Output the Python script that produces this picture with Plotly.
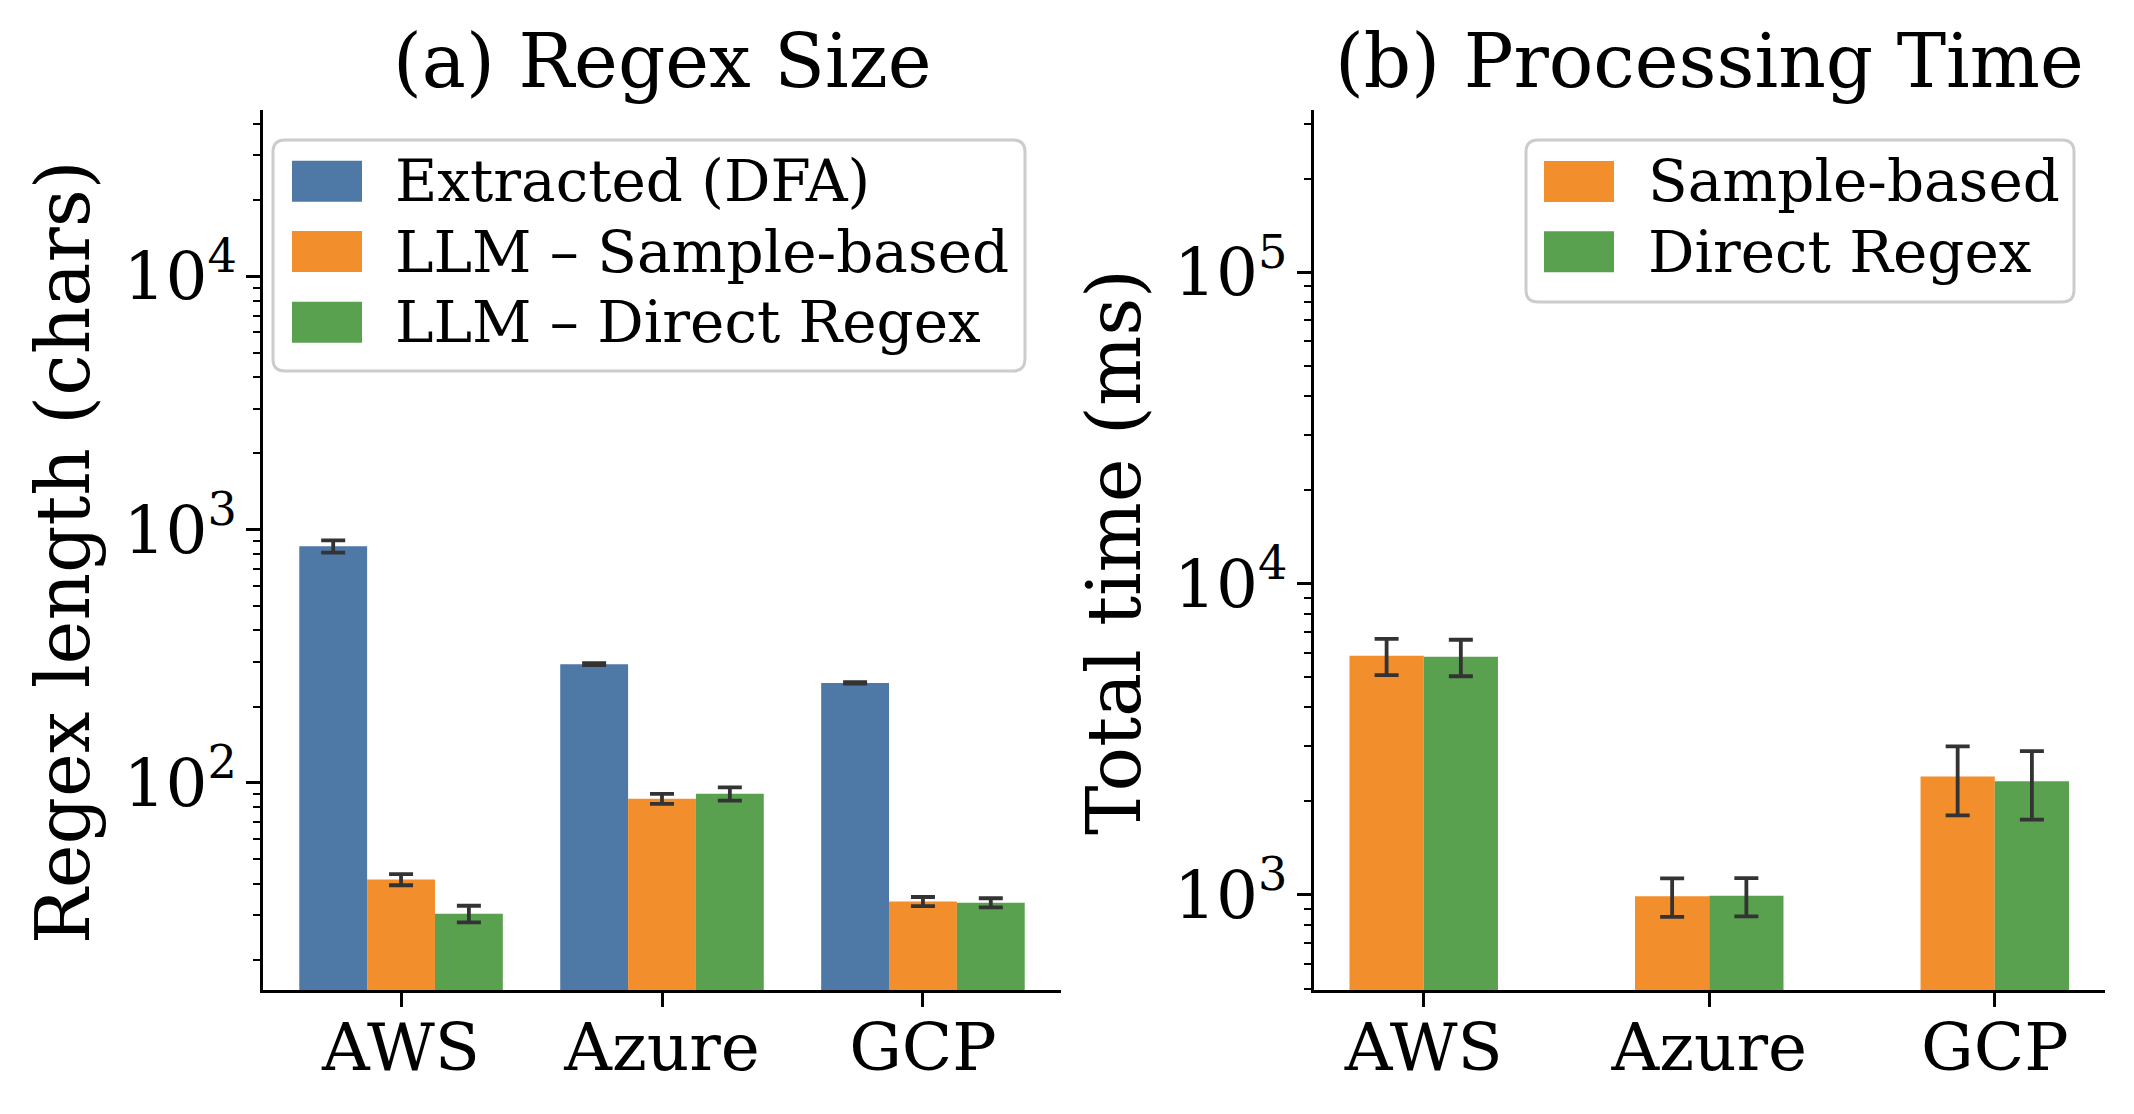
import numpy as np
import plotly.graph_objects as go

W, H = 2134, 1114

providers = ["AWS", "Azure", "GCP"]

# (a) regex size, chars
size_names = ["Extracted (DFA)", "LLM – Sample-based", "LLM – Direct Regex"]
size_dfa = [859, 294, 248]
size_dfa_err = [48, 2.5, 1.5]
size_sample = [41.5, 86.5, 34]
size_sample_err = [2.1, 4, 1.4]
size_direct = [30.4, 90.5, 33.6]
size_direct_err = [2.3, 5.5, 1.4]

# (b) processing time, ms
time_names = ["Sample-based", "Direct Regex"]
time_sample = [5860, 990, 2400]
time_sample_err = [780, 140, 600]
time_direct = [5820, 993, 2320]
time_direct_err = [780, 140, 575]

BLUE, ORANGE, GREEN = "#4e79a7", "#f28e2b", "#59a14f"
FONT = "DejaVu Serif"


def px(x):
    return x / W


def py(y):
    return 1 - y / H


def log_range(vals, errs):
    lo = min(min(v) for v in vals) * 0.5
    hi = max(max(np.array(v) + np.array(e)) for v, e in zip(vals, errs)) * 50
    return [np.log10(lo), np.log10(hi)]


def minor_vals(k0, k1):
    return [m * 10.0 ** k for k in range(k0, k1) for m in range(2, 10)]


fig = go.Figure()

bar_w = 0.26
a_series = [size_dfa, size_sample, size_direct]
a_errs = [size_dfa_err, size_sample_err, size_direct_err]
for vals, errs, name, col, off in zip(a_series, a_errs, size_names,
                                      [BLUE, ORANGE, GREEN], [-0.39, -0.13, 0.13]):
    fig.add_trace(go.Bar(
        x=providers, y=vals, name=name, width=bar_w, offset=off,
        marker=dict(color=col, line=dict(width=0)),
        error_y=dict(type="data", array=errs, color="#333333", thickness=3.8, width=12),
        xaxis="x", yaxis="y", showlegend=False))

b_series = [time_sample, time_direct]
b_errs = [time_sample_err, time_direct_err]
for vals, errs, name, col, off in zip(b_series, b_errs, time_names,
                                      [ORANGE, GREEN], [-0.26, 0.0]):
    fig.add_trace(go.Bar(
        x=providers, y=vals, name=name, width=bar_w, offset=off,
        marker=dict(color=col, line=dict(width=0)),
        error_y=dict(type="data", array=errs, color="#333333", thickness=3.8, width=12),
        xaxis="x2", yaxis="y2", showlegend=False))

axis_common = dict(showline=True, linecolor="black", linewidth=3, ticks="outside",
                   ticklen=14, tickwidth=3, tickcolor="black", showgrid=False,
                   zeroline=False, tickfont=dict(family=FONT, size=66, color="black"))

ydom = [py(990), py(110)]
fig.update_layout(
    width=W, height=H, margin=dict(l=0, r=0, t=0, b=0),
    paper_bgcolor="white", plot_bgcolor="white", barmode="group",
    xaxis=dict(domain=[px(263), px(1061)], range=[-0.529, 2.529], anchor="y",
               ticklabelstandoff=-16, **axis_common),
    yaxis=dict(domain=ydom, type="log", range=log_range(a_series, a_errs), anchor="x",
               tickvals=[1e2, 1e3, 1e4],
               ticktext=["10<sup>2</sup>", "10<sup>3</sup>", "10<sup>4</sup>"],
               ticklabelstandoff=-4,
               minor=dict(tickvals=minor_vals(1, 5), ticks="outside", ticklen=7,
                          tickwidth=2, tickcolor="black", showgrid=False),
               **axis_common),
    xaxis2=dict(domain=[px(1313.5), px(2105)], range=[-0.386, 2.386], anchor="y2",
                ticklabelstandoff=-16, **axis_common),
    yaxis2=dict(domain=ydom, type="log", range=log_range(b_series, b_errs), anchor="x2",
                tickvals=[1e3, 1e4, 1e5],
                ticktext=["10<sup>3</sup>", "10<sup>4</sup>", "10<sup>5</sup>"],
                ticklabelstandoff=-4,
                minor=dict(tickvals=minor_vals(2, 6), ticks="outside", ticklen=7,
                           tickwidth=2, tickcolor="black", showgrid=False),
                **axis_common),
)

# panel titles and axis titles
title_font = dict(family=FONT, size=74, color="black")
fig.add_annotation(text="(a) Regex Size", x=px(662), y=py(106), xref="paper", yref="paper",
                   xanchor="center", yanchor="bottom", showarrow=False, font=title_font)
fig.add_annotation(text="(b) Processing Time", x=px(1709), y=py(106), xref="paper", yref="paper",
                   xanchor="center", yanchor="bottom", showarrow=False, font=title_font)
fig.add_annotation(text="Regex length (chars)", x=px(63), y=py(552), xref="paper", yref="paper",
                   xanchor="center", yanchor="middle", textangle=-90, showarrow=False,
                   font=title_font)
fig.add_annotation(text="Total time (ms)", x=px(1114), y=py(552), xref="paper", yref="paper",
                   xanchor="center", yanchor="middle", textangle=-90, showarrow=False,
                   font=title_font)


def rounded_box(x0, y0, x1, y1, r):
    rx, ry = r / W, r / H
    X0, X1, Y0, Y1 = px(x0), px(x1), py(y0), py(y1)
    return (f"M{X0 + rx},{Y0} L{X1 - rx},{Y0} Q{X1},{Y0} {X1},{Y0 - ry} "
            f"L{X1},{Y1 + ry} Q{X1},{Y1} {X1 - rx},{Y1} L{X0 + rx},{Y1} "
            f"Q{X0},{Y1} {X0},{Y1 + ry} L{X0},{Y0 - ry} Q{X0},{Y0} {X0 + rx},{Y0} Z")


def legend(box, sw_x, txt_x, rows, names, colors):
    fig.add_shape(type="path", path=rounded_box(*box, 12), xref="paper", yref="paper",
                  fillcolor="rgba(255,255,255,0.8)", line=dict(color="#cccccc", width=3))
    for yc, name, col in zip(rows, names, colors):
        fig.add_shape(type="rect", xref="paper", yref="paper",
                      x0=px(sw_x), x1=px(sw_x + 70), y0=py(yc + 20.5), y1=py(yc - 20.5),
                      fillcolor=col, line=dict(width=0))
        fig.add_annotation(text=name, x=px(txt_x), y=py(yc), xref="paper", yref="paper",
                           xanchor="left", yanchor="middle", showarrow=False,
                           font=dict(family=FONT, size=58, color="black"))


legend((273, 140, 1025, 371), 292, 393, [181.2, 251.6, 322.2], size_names, [BLUE, ORANGE, GREEN])
legend((1526, 140, 2074, 302), 1544, 1646, [181.5, 251.8], time_names, [ORANGE, GREEN])

fig.write_html("out.html", config={"displayModeBar": False},
               post_script="document.body.style.margin='0px';")
